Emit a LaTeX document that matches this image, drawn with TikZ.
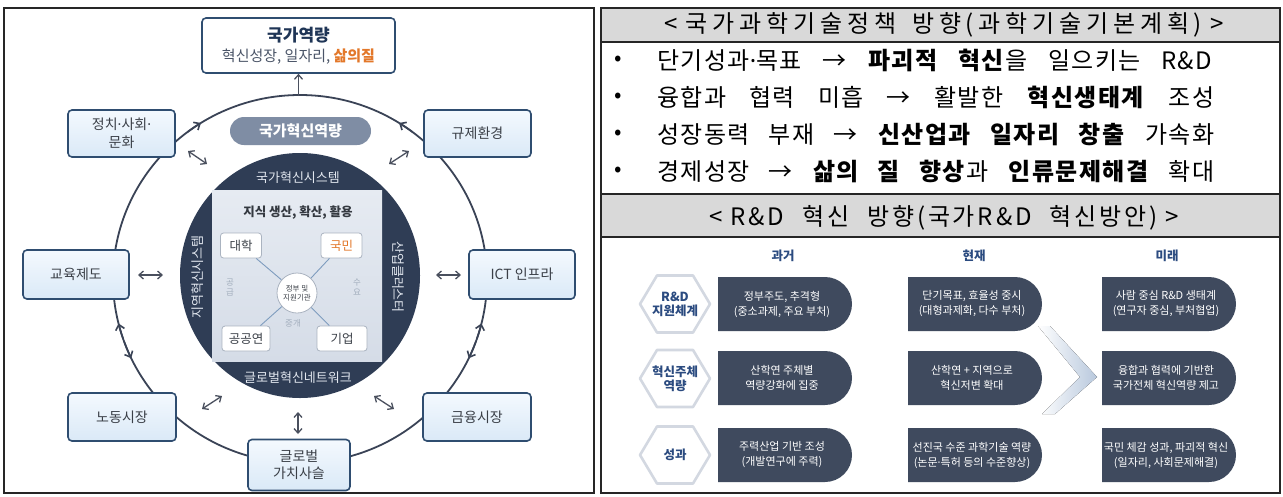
\documentclass[tikz,border=0pt]{standalone}
\usepackage{fontspec}
\setmainfont{Noto Sans CJK KR}
\newfontfamily\nsans{Noto Sans}
\newfontfamily\rfont[LetterSpace=6]{Noto Sans CJK KR}
\newfontfamily\hfont[LetterSpace=12]{Noto Sans CJK KR}
\newfontfamily\hfontw[LetterSpace=20]{Noto Sans CJK KR}
\usetikzlibrary{arrows.meta,shapes.geometric}
\newcommand\fsz[2]{\fontsize{#1}{#2}\selectfont}
\newcommand\md{{\nsans ·}}
\definecolor{navy}{HTML}{2F3D55}
\definecolor{boxline}{HTML}{2F4D70}
\definecolor{boxtop}{HTML}{F4F9FE}
\definecolor{boxbot}{HTML}{DAE9F7}
\definecolor{ringc}{HTML}{3A4356}
\definecolor{arrc}{HTML}{4A505E}
\definecolor{sqtop}{HTML}{E6EBF2}
\definecolor{sqbot}{HTML}{D5DCE7}
\definecolor{pillc}{HTML}{3F4A5E}
\definecolor{hexline}{HTML}{D3D8E1}
\definecolor{hextxt}{HTML}{2B4B80}
\definecolor{hdr}{HTML}{D9D9D9}
\definecolor{pillgray}{HTML}{7F8DA4}
\definecolor{orng}{HTML}{E3782A}
\definecolor{txt}{HTML}{3A3F47}
\definecolor{lnc}{HTML}{7E9CBE}
\definecolor{lbl}{HTML}{A2AEBD}
\definecolor{chev}{HTML}{B8C8DD}
\definecolor{ibline}{HTML}{AAB3C0}
\definecolor{coretxt}{HTML}{E2E7EF}
\definecolor{topttl}{HTML}{1F3556}
\definecolor{topsub}{HTML}{4B5568}
\newcommand\mypill[4]{%
  \fill[pillc] (#2,-#3) -- ++(107,0) arc[start angle=90,end angle=-90,radius=27] -- ++(-107,0) -- cycle;
  \node[pilltxt] (#1) at ({#2+64},{-#3-27}) {#4};}
\newcommand\myhex[3]{%
  \draw[hexline,line width=2.6pt,fill=white,line join=round]
    (640,-#2) -- (657,{-#2+28.5}) -- (693,{-#2+28.5}) -- (710,-#2) -- (693,{-#2-28.5}) -- (657,{-#2-28.5}) -- cycle;
  \node[hextxtstyle] (#1) at (675,-#2) {#3};}
\begin{document}
\begin{tikzpicture}[x=1pt,y=1pt,
  >={Straight Barb[length=4.5pt,width=8pt]},
  obox/.style={draw=boxline,line width=1.6pt,rounded corners=4pt,top color=boxtop,bottom color=boxbot,text=txt,align=center,inner sep=0pt,font={\fsz{14}{18}}},
  ibox/.style={draw=ibline,line width=0.8pt,fill=white,rounded corners=3pt,inner sep=0pt,font={\fsz{12.5}{14}},text=txt},
  dbl/.style={draw=arrc,line width=1.3pt,<->},
  sgl/.style={draw=arrc,line width=1.3pt,->},
  ringhead/.style={draw=ringc,line width=1.6pt,-{Straight Barb[length=5pt,width=9pt]}},
  coretext/.style={text=coretxt,font={\fsz{13}{15}}},
  lbltext/.style={text=lbl,font={\fsz{8.5}{10}},align=center},
  pilltxt/.style={text=white,font={\fsz{11}{15}},align=center},
  hextxtstyle/.style={text=hextxt,font={\bfseries\fsz{12.5}{14}},align=center},
  hdtxt/.style={text=hextxt,font={\bfseries\fsz{12.5}{14}}},
  rtxt/.style={anchor=base west,inner sep=0pt,font={\rfont\fsz{24}{26}},text=black},
  rhead/.style={anchor=base,inner sep=0pt,font={\hfont\fsz{24}{26}},text=black},
  bul/.style={inner sep=0pt,font={\fsz{22}{24}}}]
\useasboundingbox (0,0) rectangle (1283,-496);
\fill[white] (0,0) rectangle (1283,-496);

% ---------- panels ----------
\draw[line width=1.4pt,black!85] (4,-8) rectangle (594,-493);
\fill[hdr] (601,-8) rectangle (1280,-42);
\fill[hdr] (601,-194) rectangle (1280,-237);
\draw[line width=1.2pt,black!85] (601,-42) -- (1280,-42);
\draw[line width=1.2pt,black!85] (601,-194) -- (1280,-194);
\draw[line width=1.2pt,black!85] (601,-237) -- (1280,-237);
\draw[line width=1.4pt,black!85] (601,-8) rectangle (1280,-493);

% ---------- left diagram ----------
\draw[ringc,line width=1.8pt] (300,-279) ellipse [x radius=187,y radius=184];
\begin{scope}[shift={(300,-279)}]
  \draw[ringhead] (127:187 and 184) arc[start angle=127,end angle=122,x radius=187,y radius=184];
  \draw[ringhead] (53:187 and 184) arc[start angle=53,end angle=58,x radius=187,y radius=184];
  \draw[ringhead] (199:187 and 184) arc[start angle=199,end angle=194,x radius=187,y radius=184];
  \draw[ringhead] (200:187 and 184) arc[start angle=200,end angle=205.5,x radius=187,y radius=184];
  \draw[ringhead] (341:187 and 184) arc[start angle=341,end angle=346,x radius=187,y radius=184];
  \draw[ringhead] (340:187 and 184) arc[start angle=340,end angle=334.5,x radius=187,y radius=184];
\end{scope}

\node[ellipse,fill=navy,minimum width=240pt,minimum height=245pt,inner sep=0pt] (core) at (300,-275.5) {};
\node[top color=sqtop,bottom color=sqbot,minimum width=170pt,minimum height=171pt,inner sep=0pt] (kn) at (297,-275.5) {};
\node[coretext] (nis) at (298,-178) {국가혁신시스템};
\node[coretext] (gin) at (298,-378) {글로벌혁신네트워크};
\node[coretext,rotate=90] (ris) at (198,-277) {지역혁신시스템};
\node[coretext,rotate=-90] (icl) at (398,-277) {산업클러스터};
\node[text=txt!90!black,font={\bfseries\fsz{12.5}{14}}] (kttl) at (298,-213) {지식 생산, 확산, 활용};

\node[ibox,minimum width=41pt,minimum height=25pt] (univ) at (241,-245.5) {대학};
\node[ibox,minimum width=41pt,minimum height=25pt,text=orng] (ppl) at (341.5,-245.5) {국민};
\node[ibox,minimum width=48pt,minimum height=25pt] (pri) at (246,-338.5) {공공연};
\node[ibox,minimum width=50pt,minimum height=25pt] (firm) at (342,-338.5) {기업};
\node[circle,draw=ibline,line width=0.8pt,fill=white,minimum size=40pt,inner sep=0pt,align=center,font={\fsz{7.5}{9}},text=txt] (gov) at (297,-293) {정부 및\\지원기관};
\draw[lnc,line width=0.9pt] (gov) -- (univ);
\draw[lnc,line width=0.9pt] (gov) -- (ppl);
\draw[lnc,line width=0.9pt] (gov) -- (pri);
\draw[lnc,line width=0.9pt] (gov) -- (firm);
\node[lbltext] (sup) at (230,-287) {공\\급};
\node[lbltext] (dem) at (357,-287) {수\\요};
\node[lbltext] (bro) at (293,-323) {중개};

\node[fill=pillgray,rounded corners=14pt,minimum width=141pt,minimum height=28pt,inner sep=0pt,text=white,font={\bfseries\fsz{15}{17}}] (nic) at (300.5,-131) {국가혁신역량};

% outer boxes
\node[draw=boxline,line width=1.6pt,rounded corners=4pt,fill=white,minimum width=193pt,minimum height=55pt,inner sep=0pt] (topbox) at (298.5,-45.5) {};
\node[text=topttl,font={\bfseries\fsz{17}{19}}] (toptitle) at (298.5,-35) {국가역량};
\node[text=topsub,font={\fsz{15}{17}}] (topsubt) at (298.5,-57) {혁신성장, 일자리, {\color{orng}\bfseries 삶의질}};
\node[obox,minimum width=107pt,minimum height=47pt] (pol) at (121.5,-133.5) {정치\md 사회\md\\문화};
\node[obox,minimum width=107pt,minimum height=47pt] (reg) at (477.5,-133.5) {규제환경};
\node[obox,minimum width=106pt,minimum height=49pt] (edu) at (76,-274.5) {교육제도};
\node[obox,minimum width=106pt,minimum height=49pt] (ict) at (522,-274.5) {ICT 인프라};
\node[obox,minimum width=108pt,minimum height=48pt] (lab) at (122,-417) {노동시장};
\node[obox,minimum width=108pt,minimum height=48pt] (fin) at (477,-417) {금융시장};
\node[obox,minimum width=102pt,minimum height=51pt,font={\fsz{14}{17}}] (gvc) at (299,-465) {글로벌\\가치사슬};

% arrows
\coordinate (ringtop) at (298.5,-96);
\draw[sgl] (ringtop) -- (topbox.south);
\coordinate (e1) at (138,-275); \coordinate (e2) at (163,-275);
\draw[dbl] (e1) -- (e2);
\coordinate (i1) at (436,-275); \coordinate (i2) at (461,-275);
\draw[dbl] (i1) -- (i2);
\coordinate (tl1) at (188,-151); \coordinate (tl2) at (207,-164);
\draw[dbl] (tl1) -- (tl2);
\coordinate (tr1) at (389,-164); \coordinate (tr2) at (409,-151);
\draw[dbl] (tr1) -- (tr2);
\coordinate (bl1) at (202,-409); \coordinate (bl2) at (222,-396);
\draw[dbl] (bl1) -- (bl2);
\coordinate (br1) at (374,-396); \coordinate (br2) at (394,-409);
\draw[dbl] (br1) -- (br2);
\coordinate (b1) at (298,-412); \coordinate (b2) at (298,-434);
\draw[dbl] (b1) -- (b2);

% ---------- right upper ----------
\node[rhead,font={\hfontw\fsz{24}{26}}] (hd1) at (944,-32) {<\kern8pt 국가과학기술정책\kern16pt 방향(과학기술기본계획)\kern8pt>};
\node[bul] (bu1) at (618,-61) {•};
\node[bul] (bu2) at (618,-98) {•};
\node[bul] (bu3) at (618,-135) {•};
\node[bul] (bu4) at (618,-172) {•};
\node[rtxt] (ln1) at (657,-69) {\makebox[555pt][s]{단기성과\md 목표 → \textbf{파괴적 혁신}을 일으키는 R\&D}};
\node[rtxt] (ln2) at (657,-106) {\makebox[557pt][s]{융합과 협력 미흡 → 활발한 \textbf{혁신생태계} 조성}};
\node[rtxt] (ln3) at (657,-143) {\makebox[557pt][s]{성장동력 부재 → \textbf{신산업과 일자리 창출} 가속화}};
\node[rtxt] (ln4) at (657,-180) {\makebox[557pt][s]{경제성장 → \textbf{삶의 질 향상}과 \textbf{인류문제해결} 확대}};
\node[rhead] (hd2) at (944,-225) {\makebox[470pt][s]{<\kern8pt R\&D 혁신 방향(국가R\&D 혁신방안)\kern8pt>}};

% ---------- right lower ----------
\node[hdtxt] (past) at (783,-256) {과거};
\node[hdtxt] (pres) at (974,-256) {현재};
\node[hdtxt] (futr) at (1167,-256) {미래};
\fill[left color=white,right color=chev] (1050,-326) -- (1097,-377) -- (1055,-414) -- (1042,-414) -- (1080,-377) -- (1038,-326) -- cycle;
\myhex{hx1}{304}{R\&D\\지원체계}
\myhex{hx2}{378.5}{혁신주체\\역량}
\myhex{hx3}{455}{성과}
\mypill{p11}{718}{277}{정부주도, 추격형\\(중소과제, 주요 부처)}
\mypill{p21}{718}{351}{산학연 주체별\\역량강화에 집중}
\mypill{p31}{718}{428}{주력산업 기반 조성\\(개발연구에 주력)}
\mypill{p12}{908}{277}{단기목표, 효율성 중시\\(대형과제화, 다수 부처)}
\mypill{p22}{908}{351}{산학연 + 지역으로\\혁신저변 확대}
\mypill{p32}{908}{428}{선진국 수준 과학기술 역량\\(논문\md 특허 등의 수준향상)}
\mypill{p13}{1102}{277}{사람 중심 R\&D 생태계\\(연구자 중심, 부처협업)}
\mypill{p23}{1102}{351}{융합과 협력에 기반한\\국가전체 혁신역량 제고}
\mypill{p33}{1102}{428}{국민 체감 성과, 파괴적 혁신\\(일자리, 사회문제해결)}
\end{tikzpicture}
\end{document}
